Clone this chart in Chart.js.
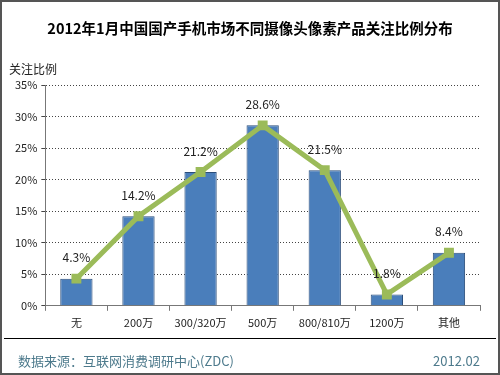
<!DOCTYPE html>
<html>
<head>
<meta charset="utf-8">
<script src="https://cdn.jsdelivr.net/npm/chart.js@4/dist/chart.umd.min.js"></script>
<style>
  html, body { margin: 0; padding: 0; background: #fff; }
  #wrap { width: 500px; height: 375px; position: relative; }
</style>
</head>
<body>
<div id="wrap"><canvas id="chart_camera"></canvas></div>
<script>
var categories = ['无', '200万', '300/320万', '500万', '800/810万', '1200万', '其他'];
var shareValues = [4.3, 14.2, 21.2, 28.6, 21.5, 1.8, 8.4];
var yTicks = [0, 5, 10, 15, 20, 25, 30, 35];

var titleText = '2012年1月中国国产手机市场不同摄像头像素产品关注比例分布';
var yTitle = '关注比例';
var sourceText = '数据来源：互联网消费调研中心(ZDC)';
var dateText = '2012.02';

var fontFamily = "'Noto Sans CJK SC', 'DejaVu Sans', sans-serif";

// frame, title, footer and value labels
var decorPlugin = {
    id: 'decor',
    afterDraw: function(chart) {
        var c = chart.ctx;
        c.save();
        // outer frame
        c.strokeStyle = '#555';
        c.lineWidth = 2;
        c.strokeRect(1, 1, 498, 373);
        // title
        c.fillStyle = '#000';
        c.font = 'bold 14.5px ' + fontFamily;
        c.textAlign = 'center';
        c.textBaseline = 'middle';
        c.fillText(titleText, 250, 28);
        // y title
        c.font = '12px ' + fontFamily;
        c.fillStyle = '#222';
        c.textAlign = 'left';
        c.fillText(yTitle, 9, 69);
        // separator
        c.strokeStyle = '#000';
        c.lineWidth = 1;
        c.beginPath();
        c.moveTo(4, 338.5);
        c.lineTo(496, 338.5);
        c.stroke();
        // footer
        c.fillStyle = '#4d7a8c';
        c.font = '13px ' + fontFamily;
        c.fillText(sourceText, 18, 361);
        c.textAlign = 'right';
        c.fillText(dateText, 480, 361);
        // value labels above line points
        var meta = chart.getDatasetMeta(1);
        c.fillStyle = '#222';
        c.font = '12px ' + fontFamily;
        c.textAlign = 'center';
        meta.data.forEach(function(pt, i) {
            c.fillText(shareValues[i].toFixed(1) + '%', pt.x, pt.y - 21);
        });
        c.restore();
    }
};

var ctx = document.getElementById('chart_camera');

var chartBar = new Chart(ctx, {
    type: 'bar',
    data: {
        labels: categories,
        datasets: [
            {
                type: 'bar',
                label: '关注比例',
                data: shareValues,
                backgroundColor: '#4a7ebb',
                borderColor: '#2b4e7a',
                borderWidth: 1,
                barPercentage: 0.52,
                categoryPercentage: 1,
                order: 2
            },
            {
                type: 'line',
                label: '趋势',
                data: shareValues,
                borderColor: '#9bbb59',
                backgroundColor: '#9bbb59',
                borderWidth: 5,
                pointStyle: 'rect',
                pointRadius: 7,
                pointBorderWidth: 0,
                tension: 0,
                order: 1
            }
        ]
    },
    options: {
        responsive: true,
        maintainAspectRatio: false,
        animation: false,
        layout: {
            padding: { top: 85, left: 11, right: 20, bottom: 41 }
        },
        plugins: {
            legend: { display: false },
            tooltip: { enabled: false },
            title: { display: false }
        },
        scales: {
            y: {
                min: 0,
                max: 35,
                afterBuildTicks: function(scale) {
                    scale.ticks = yTicks.map(function(v) { return { value: v }; });
                },
                ticks: {
                    color: '#222',
                    font: { size: 11, family: fontFamily },
                    padding: 4,
                    callback: function(value) { return value + '%'; }
                },
                grid: {
                    color: '#444',
                    lineWidth: 1,
                    tickLength: 4,
                    drawTicks: true
                },
                border: { display: true, color: '#777', dash: [1, 2] }
            },
            x: {
                offset: true,
                ticks: {
                    color: '#222',
                    font: { size: 11, family: fontFamily },
                    padding: 5,
                    maxRotation: 0,
                    minRotation: 0,
                    autoSkip: false
                },
                grid: {
                    offset: true,
                    drawOnChartArea: false,
                    drawTicks: true,
                    tickLength: 5,
                    color: '#777'
                },
                border: { display: true, color: '#777' }
            }
        }
    },
    plugins: [decorPlugin]
});
</script>
</body>
</html>
